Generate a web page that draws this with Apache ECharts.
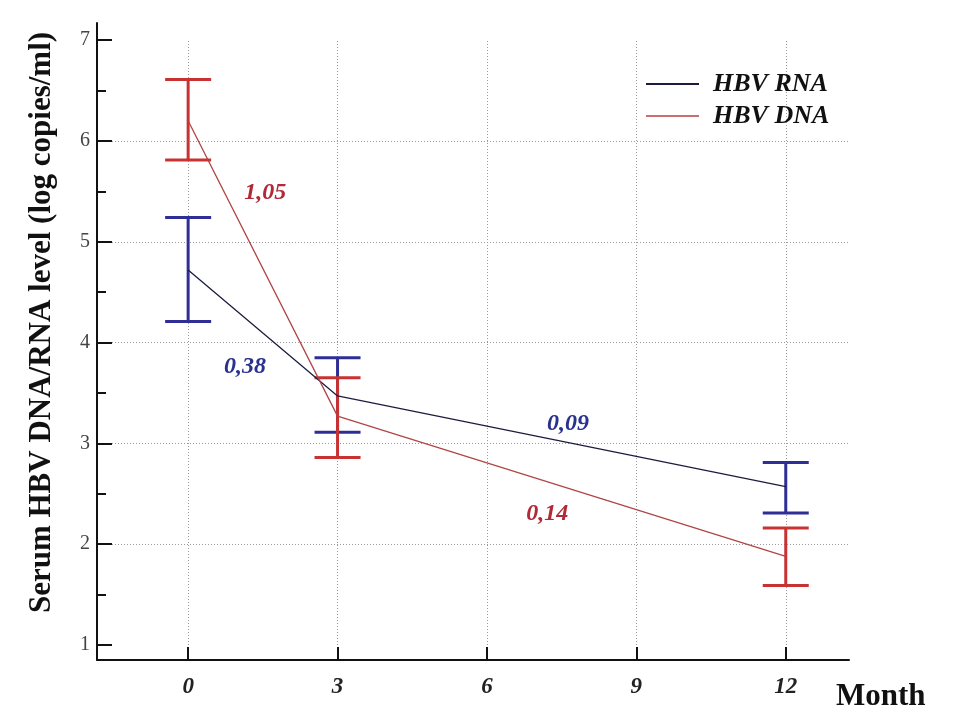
<!DOCTYPE html>
<html><head><meta charset="utf-8">
<script src="https://cdn.jsdelivr.net/npm/echarts@6/dist/echarts.min.js"></script>
<style>html,body{margin:0;padding:0;background:#fff}#c{width:957px;height:719px}</style>
</head><body><div id="c"></div>
<script>
// ---- data ----
const months = [0, 3, 12];
const rnaMean = [4.72, 3.47, 2.57];
const rnaLow  = [4.21, 3.11, 2.31];
const rnaHigh = [5.24, 3.85, 2.81];
const dnaMean = [6.20, 3.27, 1.88];
const dnaLow  = [5.81, 2.86, 1.59];
const dnaHigh = [6.61, 3.65, 2.16];
const xTicks = [0, 3, 6, 9, 12];
const yTicks = [1, 2, 3, 4, 5, 6, 7];
const yMinorTicks = [1.5, 2.5, 3.5, 4.5, 5.5, 6.5];
const seriesNames = ['HBV RNA', 'HBV DNA'];
const annotationText = ['1,05', '0,38', '0,09', '0,14'];
const annotationSeries = [1, 0, 0, 1];
// ---- layout (data units) ----
const annotationAnchor = [[1.55, 5.49], [1.14, 3.76], [7.63, 3.19], [7.21, 2.30]];
const X_MIN = -1.83, X_MAX = 13.27, Y_MIN = 0.851, Y_MAX = 7.17;

const lineColors = ['#1c1c40', '#b04545'];
const barColors = ['#2e2e96', '#c83232'];
const textColors = ['#2a3290', '#b02a38'];
const serif = 'Liberation Serif';
const gridLine = {color: '#9a9a9a', type: [1, 2], width: 1};

function errorBarSeries(name, low, high, color) {
  return {
    type: 'custom', name: name, silent: true, z: 2,
    data: months.map((m, i) => [m, low[i], high[i]]),
    encode: {x: 0, y: [1, 2]},
    renderItem(params, api) {
      const x = api.value(0);
      const lo = api.coord([x, api.value(1)]);
      const hi = api.coord([x, api.value(2)]);
      const w = 23;
      const style = {stroke: color, lineWidth: 3, fill: null};
      return {type: 'group', children: [
        {type: 'line', shape: {x1: lo[0], y1: lo[1], x2: hi[0], y2: hi[1]}, style: style},
        {type: 'line', shape: {x1: lo[0] - w, y1: lo[1], x2: lo[0] + w, y2: lo[1]}, style: style},
        {type: 'line', shape: {x1: hi[0] - w, y1: hi[1], x2: hi[0] + w, y2: hi[1]}, style: style}
      ]};
    }
  };
}

const chart = echarts.init(document.getElementById('c'));
chart.setOption({
  animation: false,
  backgroundColor: '#fff',
  grid: {left: 97, right: 108, top: 23, bottom: 59, containLabel: false},
  legend: {
    data: seriesNames, orient: 'vertical', left: 641, top: 66,
    icon: 'rect', itemWidth: 53, itemHeight: 2, itemGap: 6,
    textStyle: {fontFamily: serif, fontStyle: 'italic', fontWeight: 'bold', fontSize: 26, lineHeight: 26, color: '#111', padding: [0, 0, 0, 9]}
  },
  xAxis: {
    type: 'value', min: X_MIN, max: X_MAX,
    axisLine: {show: true, onZero: false, lineStyle: {color: '#111', width: 2}},
    axisTick: {show: true, inside: true, length: 13, customValues: xTicks, lineStyle: {color: '#111', width: 2}},
    axisLabel: {customValues: xTicks, fontFamily: serif, fontStyle: 'italic', fontWeight: 'bold', fontSize: 23, color: '#222', margin: 16},
    splitLine: {show: false},
    name: 'Month', nameLocation: 'end', nameGap: -13,
    nameTextStyle: {fontFamily: serif, fontWeight: 'bold', fontSize: 31, color: '#111', align: 'left', verticalAlign: 'top', padding: [21, 0, 0, 0]}
  },
  yAxis: [{
    type: 'value', min: Y_MIN, max: Y_MAX, position: 'left',
    axisLine: {show: true, onZero: false, lineStyle: {color: '#111', width: 2}},
    axisTick: {show: true, inside: true, length: 15, customValues: yTicks, lineStyle: {color: '#111', width: 2}},
    axisLabel: {customValues: yTicks, fontFamily: serif, fontSize: 20, color: '#444', margin: 7},
    splitLine: {show: true, showMinLine: false, showMaxLine: false, lineStyle: gridLine},
    name: 'Serum HBV DNA/RNA level (log copies/ml)', nameLocation: 'middle', nameGap: 40, nameRotate: 90,
    nameTextStyle: {fontFamily: serif, fontWeight: 'bold', fontSize: 31, color: '#111', padding: [0, 0, 0, 38]}
  }, {
    type: 'value', min: Y_MIN, max: Y_MAX, position: 'left',
    axisLine: {show: false, onZero: false},
    axisTick: {show: true, inside: true, length: 9, customValues: yMinorTicks, lineStyle: {color: '#111', width: 2}},
    axisLabel: {show: false},
    splitLine: {show: false}
  }],
  series: [
    {
      type: 'line', name: 'grid', silent: true, z: 0, data: [],
      markLine: {
        silent: true, z: 0, symbol: 'none', label: {show: false},
        lineStyle: gridLine, emphasis: {disabled: true},
        data: xTicks.map(m => [{coord: [m, Y_MIN]}, {coord: [m, 7]}])
      }
    },
    errorBarSeries('RNA SD', rnaLow, rnaHigh, barColors[0]),
    errorBarSeries('DNA SD', dnaLow, dnaHigh, barColors[1]),
    {
      type: 'line', name: seriesNames[0], z: 3, symbol: 'none',
      data: months.map((m, i) => [m, rnaMean[i]]),
      lineStyle: {color: lineColors[0], width: 1.3}, itemStyle: {color: lineColors[0]}
    },
    {
      type: 'line', name: seriesNames[1], z: 3, symbol: 'none',
      data: months.map((m, i) => [m, dnaMean[i]]),
      lineStyle: {color: lineColors[1], width: 1.3}, itemStyle: {color: '#c87070'}
    },
    {
      type: 'scatter', name: 'annotations', silent: true, z: 4, symbolSize: 0,
      itemStyle: {opacity: 1},
      data: annotationText.map((t, i) => ({
        value: [annotationAnchor[i][0], annotationAnchor[i][1], t],
        label: {color: textColors[annotationSeries[i]]}
      })),
      label: {show: true, position: 'inside', formatter: p => p.value[2],
        fontFamily: serif, fontStyle: 'italic', fontWeight: 'bold', fontSize: 24}
    }
  ]
});
</script>
</body></html>
